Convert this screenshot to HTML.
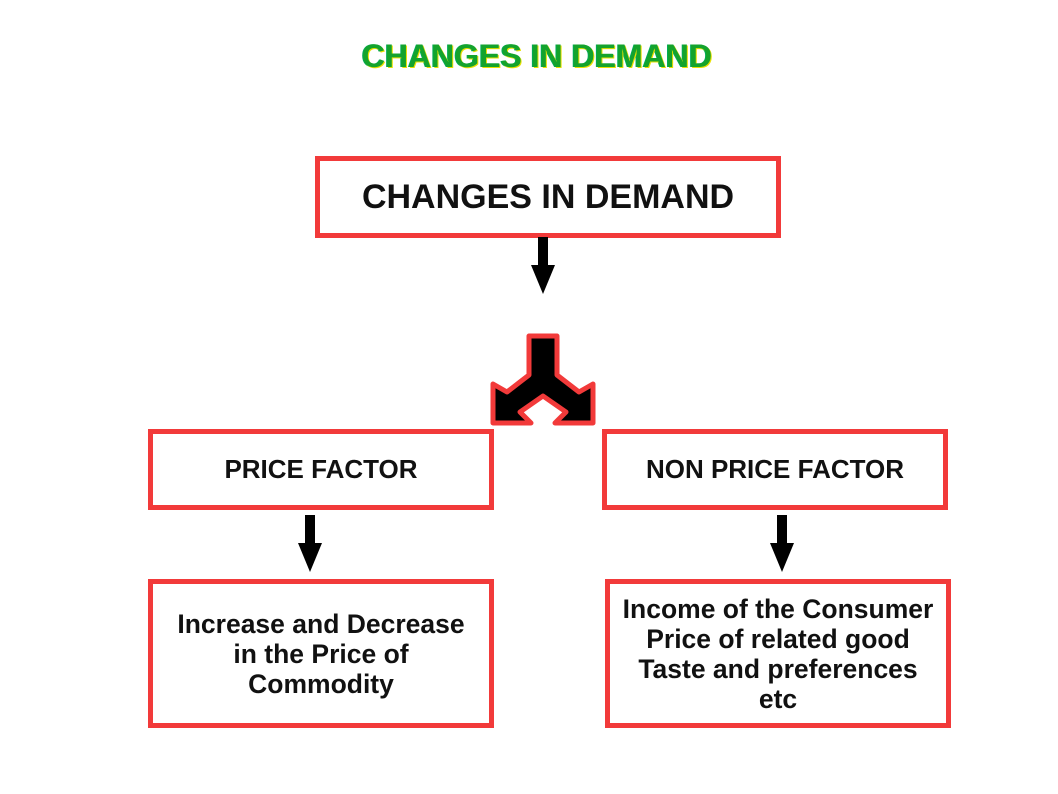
<!DOCTYPE html>
<html><head><style>
body{margin:0;width:1058px;height:794px;background:#fff;position:relative;overflow:hidden;font-family:"Liberation Sans",sans-serif;}
.t{position:absolute;left:8px;width:1058px;top:38px;text-align:center;font-size:32px;font-weight:bold;color:#14a32c;text-shadow:1px 1px 0 #e8e000,-1px 0 0 #0a5;letter-spacing:0px;}
.b{position:absolute;box-sizing:border-box;border:5px solid #f23a3a;display:flex;align-items:center;justify-content:center;text-align:center;font-weight:bold;color:#111;}
</style></head><body>
<div class="t">CHANGES IN DEMAND</div>
<div class="b" style="left:315px;top:156px;width:466px;height:82px;font-size:34px;">CHANGES IN DEMAND</div>
<div class="b" style="left:148px;top:429px;width:346px;height:81px;font-size:26px;">PRICE FACTOR</div>
<div class="b" style="left:602px;top:429px;width:346px;height:81px;font-size:26px;">NON PRICE FACTOR</div>
<div class="b" style="left:148px;top:579px;width:346px;height:149px;font-size:26.5px;line-height:30px;">Increase and Decrease<br>in the Price of<br>Commodity</div>
<div class="b" style="left:605px;top:579px;width:346px;height:149px;font-size:26.5px;line-height:30px;">Income of the Consumer<br>Price of related good<br>Taste and preferences<br>etc</div>
<svg width="1058" height="794" style="position:absolute;left:0;top:0">
<g fill="#000">
<rect x="538" y="237" width="10" height="30"/><polygon points="531,265 555,265 543,294"/>
<rect x="305" y="515" width="10" height="30"/><polygon points="298,543 322,543 310,572"/>
<rect x="777" y="515" width="10" height="30"/><polygon points="770,543 794,543 782,572"/>
</g>
<polygon points="529,336 557,336 557,375 579,392 593,384 593,423 555,423 566,412 543,396 520,412 531,423 493,423 493,384 507,392 529,375" fill="#000" stroke="#f23a3a" stroke-width="5" stroke-linejoin="round"/>
</svg>
</body></html>
